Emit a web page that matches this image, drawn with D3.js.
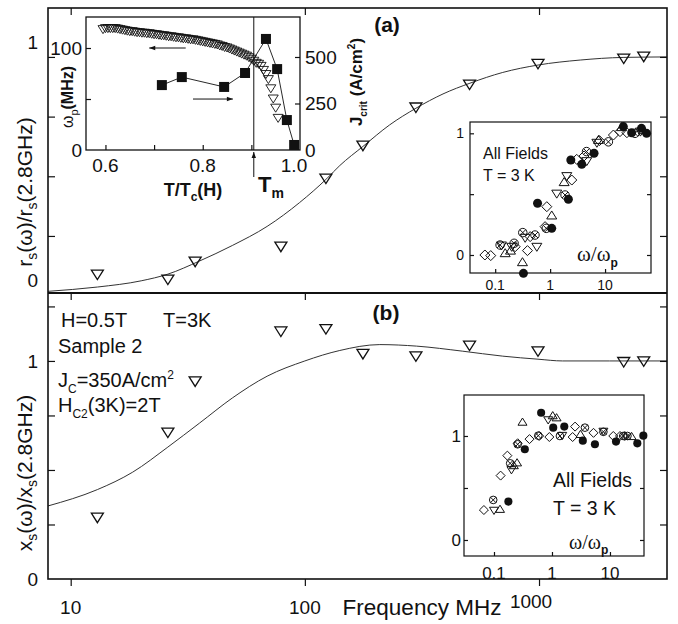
<!DOCTYPE html>
<html>
<head>
<meta charset="utf-8">
<script src="https://cdn.jsdelivr.net/npm/d3@7"></script>
<style>
  body { margin: 0; background: #fff; }
  svg { display: block; }
  text { font-family: "Liberation Sans", Arial, Helvetica, sans-serif; fill: #111; }
</style>
</head>
<body>
<svg id="chart" width="678" height="624"></svg>
<script>
// ---------------- data ----------------
const freqTicks = [10, 100, 1000];
const measFreq = [13, 26, 34, 79, 123, 177, 298, 505, 990, 2300, 2800];
const rsMeas   = [0.087, 0.066, 0.141, 0.204, 0.489, 0.627, 0.787, 0.883, 0.97, 0.992, 1.0];
const xsMeas   = [0.28, 0.67, 0.905, 1.134, 1.145, 1.031, 1.02, 1.069, 1.043, 0.994, 0.997];

const rsFitFreq = [8, 13, 20, 26, 35.5, 49, 69, 95, 124, 141, 177, 230, 298, 389, 507, 700, 990, 1500, 2286, 3520];
const rsFit     = [0.018, 0.036, 0.062, 0.09, 0.145, 0.21, 0.29, 0.39, 0.49, 0.545, 0.625, 0.715, 0.785, 0.845, 0.89, 0.935, 0.966, 0.987, 0.998, 1.0];
const xsFitFreq = [8, 13, 18.4, 26, 35.5, 49, 69, 100, 141, 209, 300, 470, 700, 990, 1260, 2000, 3520];
const xsFit     = [0.335, 0.41, 0.49, 0.605, 0.715, 0.83, 0.93, 1.0, 1.048, 1.075, 1.068, 1.045, 1.022, 1.008, 1.0, 1.0, 1.0];

const panelTicks  = [0.25, 0.5, 0.75, 1, 1.25];
const panelLabels = [0, 1];

// plasma frequency and critical current vs reduced temperature
const omegaPts = [
  [0.595,118],[0.600,119],[0.605,119],[0.610,119],[0.615,119],[0.620,119],[0.625,118.5],[0.630,118],
  [0.635,117.5],[0.640,117],[0.645,116.5],[0.650,116],[0.655,116],[0.660,115.5],[0.665,115],[0.670,115],
  [0.675,114.5],[0.680,114.5],[0.685,114],[0.690,114],[0.695,113.5],[0.700,113],[0.705,113],[0.710,112.5],
  [0.715,112],[0.720,112],[0.725,111.5],[0.730,111],[0.735,111],[0.740,110.5],[0.745,110],[0.750,110],
  [0.755,109.5],[0.760,109],[0.765,109],[0.770,108.5],[0.775,108],[0.780,108],[0.785,107.5],[0.790,107],
  [0.795,106.5],[0.800,106],[0.805,105.5],[0.810,105],[0.815,104.5],[0.820,104],[0.825,103.5],[0.830,103],
  [0.835,102],[0.840,101.5],[0.845,100.5],[0.850,100],[0.855,99],[0.860,98],[0.865,97],[0.870,96],
  [0.875,95],[0.880,94],[0.885,93],[0.890,92],[0.895,90.5],[0.900,89],[0.905,87],[0.910,85],
  [0.915,84],[0.920,82],[0.925,78],[0.930,74],[0.935,69],[0.940,60],[0.945,50],[0.950,41],[0.955,31]
];
const jcRatio = [0.716, 0.757, 0.844, 0.887, 0.930, 0.953, 0.973, 0.988];
const jCrit   = [349, 392, 339, 414, 597, 435, 161, 27];
const tMelt = 0.905;
const omegaTicks = [0, 100];
const jTicks = [0, 250, 500];
const tTicks = [0.6, 0.8, 1.0];

// scaled r_s vs omega/omega_p, all fields
const rsDiamond = [[0.065,0.0],[0.083,-0.005],[0.231,0.068],[0.387,0.036],[0.433,0.151],[0.81,0.233],[0.87,0.397],
  [2.48,0.616],[3.05,0.786],[4.15,0.814],[7.9,0.94],[14.2,0.986],[18.7,1.014],[25,1.005]];
const rsUp = [[0.152,0.019],[0.19,0.04],[0.314,-0.055],[1.07,0.329],[1.8,0.603],[7.6,0.95],[20.1,1.055],[50,1.03]];
const rsDown = [[0.13,0.074],[0.2,0.063],[0.351,0.137],[0.573,0.063],[1.32,0.5],[2.01,0.644],[4.64,0.767],[7.1,0.918],[44,1.01]];
const rsCross = [[0.123,0.082],[0.221,0.096],[0.318,0.184],[0.53,0.164],[0.85,0.219],[1.87,0.493],[4.6,0.85],[11.5,0.93],[35,1.0]];
const rsDot = [[0.327,-0.151],[0.59,0.425],[1.07,0.219],[2.15,0.458],[2.38,0.781],[3.77,0.745],[6.3,0.836],
  [21.5,1.055],[30.5,1.005],[46,1.041],[57,1.0]];

// scaled x_s vs omega/omega_p, all fields
const xsDiamond = [[0.067,0.288],[0.13,0.619],[0.17,0.811],[0.256,0.93],[0.41,0.97],[0.6,1.0],[0.9,0.99],
  [2.27,0.99],[2.5,1.09],[5.2,1.03],[11.4,1.0],[14.9,1.0],[18,1.0]];
const xsUp = [[0.127,0.30],[0.22,0.72],[0.25,0.747],[0.31,1.138],[1.03,1.2],[1.2,1.18],[3.1,1.02],[23.6,1.0]];
const xsDown = [[0.1,0.28],[0.2,0.67],[0.86,1.15],[1.5,1.0],[7.7,1.04]];
const xsCross = [[0.097,0.385],[0.19,0.737],[0.256,0.92],[0.58,1.003],[1.37,1.0],[3.7,1.08],[7.7,1.04],[16.9,1.0],[20,1.0]];
const xsDot = [[0.177,0.369],[0.34,0.872],[0.65,1.224],[1.05,1.08],[1.63,1.09],[3.4,0.955],[5.5,0.92],
  [12.7,0.946],[29.6,0.929],[37.6,1.003]];

const ratioTicks = [0.1, 1, 10];
const ratioYTicks = [0, 0.5, 1];
const ratioYLabels = [0, 1];

// ---------------- helpers ----------------
const svg = d3.select("#chart");
const INK = "#111";

function richText(g, x, y, parts) {
  const t = g.append("text").attr("x", x).attr("y", y);
  let cur = 0;
  for (const p of parts) {
    const off = p.sub ? p.sub : p.sup ? -p.sup : 0;
    const ts = t.append("tspan").attr("dy", off - cur).text(p.t);
    if (p.size) ts.attr("font-size", p.size);
    if (p.weight) ts.attr("font-weight", p.weight);
    if (p.family) ts.attr("font-family", p.family);
    cur = off;
  }
  return t;
}
function ticks(g, axis) {
  g.call(axis);
  g.select(".domain").remove();
  g.selectAll("text").remove();
  g.selectAll("line").attr("stroke", INK).attr("stroke-width", 1.2);
}
const downTri = (w, h) => `M${-w},${-h / 2}L${w},${-h / 2}L0,${h / 2}Z`;
const upTri = (w, h) => `M${-w},${h / 2}L${w},${h / 2}L0,${-h / 2}Z`;
const diamond = r => `M0,${-r}L${r},0L0,${r}L${-r},0Z`;

function scatter(g, sx, sy, sets, r) {
  const place = d => `translate(${sx(d[0])},${sy(d[1])})`;
  g.selectAll(null).data(sets.diamond).join("path").attr("transform", place)
    .attr("d", diamond(r)).attr("fill", "none").attr("stroke", INK).attr("stroke-width", 1);
  g.selectAll(null).data(sets.up).join("path").attr("transform", place)
    .attr("d", upTri(r, r * 1.6)).attr("fill", "none").attr("stroke", INK).attr("stroke-width", 1);
  g.selectAll(null).data(sets.down).join("path").attr("transform", place)
    .attr("d", downTri(r, r * 1.6)).attr("fill", "none").attr("stroke", INK).attr("stroke-width", 1);
  const cx = g.selectAll(null).data(sets.cross).join("g").attr("transform", place);
  cx.append("circle").attr("r", r * 0.85).attr("fill", "none").attr("stroke", INK).attr("stroke-width", 1);
  cx.append("path").attr("d", `M${-r * 0.6},${-r * 0.6}L${r * 0.6},${r * 0.6}M${r * 0.6},${-r * 0.6}L${-r * 0.6},${r * 0.6}`)
    .attr("stroke", INK).attr("stroke-width", 1);
  g.selectAll(null).data(sets.dot).join("circle").attr("transform", place)
    .attr("r", r * 0.9).attr("fill", INK);
}

// ---------------- main frame ----------------
const F = { left: 48, right: 667, top: 8, mid: 293, bottom: 579 };
const x = d3.scaleLog().domain([8, 3520]).range([F.left, F.right]);
const yA = d3.scaleLinear().domain([0.011, 1.205]).range([F.mid, F.top]);
const yB = d3.scaleLinear().domain([0, 1.307]).range([F.bottom, F.mid + 1]);

const line = (sy) => d3.line().x(d => x(d[0])).y(d => sy(d[1])).curve(d3.curveMonotoneX);

// fits
svg.append("path").datum(rsFitFreq.map((f, i) => [f, rsFit[i]]))
  .attr("d", line(yA)).attr("fill", "none").attr("stroke", "#333").attr("stroke-width", 1);
svg.append("path").datum(xsFitFreq.map((f, i) => [f, xsFit[i]]))
  .attr("d", line(yB)).attr("fill", "none").attr("stroke", "#333").attr("stroke-width", 1);

// measured points
svg.selectAll(null).data(measFreq.map((f, i) => [f, rsMeas[i]])).join("path")
  .attr("transform", d => `translate(${x(d[0])},${yA(d[1])})`)
  .attr("d", downTri(6, 9.5)).attr("fill", "none").attr("stroke", INK).attr("stroke-width", 1.3);
svg.selectAll(null).data(measFreq.map((f, i) => [f, xsMeas[i]])).join("path")
  .attr("transform", d => `translate(${x(d[0])},${yB(d[1])})`)
  .attr("d", downTri(6, 9.5)).attr("fill", "none").attr("stroke", INK).attr("stroke-width", 1.3);

// ticks
ticks(svg.append("g").attr("transform", `translate(0,${F.top})`), d3.axisTop(x).tickValues(freqTicks).tickSize(-7));
ticks(svg.append("g").attr("transform", `translate(0,${F.mid})`), d3.axisBottom(x).tickValues(freqTicks).tickSize(7));
ticks(svg.append("g").attr("transform", `translate(0,${F.bottom})`), d3.axisBottom(x).tickValues(freqTicks).tickSize(7));
ticks(svg.append("g").attr("transform", `translate(${F.left},0)`), d3.axisLeft(yA).tickValues(panelTicks.filter(v => v <= 1)).tickSize(-7));
ticks(svg.append("g").attr("transform", `translate(${F.right},0)`), d3.axisRight(yA).tickValues(panelTicks.filter(v => v <= 1)).tickSize(-7));
ticks(svg.append("g").attr("transform", `translate(${F.left},0)`), d3.axisLeft(yB).tickValues(panelTicks).tickSize(-7));
ticks(svg.append("g").attr("transform", `translate(${F.right},0)`), d3.axisRight(yB).tickValues(panelTicks).tickSize(-7));

svg.append("rect").attr("x", F.left).attr("y", F.top).attr("width", F.right - F.left).attr("height", F.bottom - F.top)
  .attr("fill", "none").attr("stroke", INK).attr("stroke-width", 1.6);
svg.append("line").attr("x1", F.left).attr("x2", F.right).attr("y1", F.mid).attr("y2", F.mid)
  .attr("stroke", INK).attr("stroke-width", 1.8);

// tick labels
const tl = svg.append("g").attr("font-size", 19);
tl.selectAll(null).data(panelLabels).join("text")
  .attr("x", 38).attr("y", d => yA(d) - 15).attr("dy", "0.35em").attr("text-anchor", "end").text(d => d);
tl.selectAll(null).data(panelLabels).join("text")
  .attr("x", 38).attr("y", d => yB(d)).attr("dy", "0.35em").attr("text-anchor", "end").text(d => d);
tl.selectAll(null).data(freqTicks).join("text")
  .attr("x", d => x(d) - (d === 1000 ? 8 : 0)).attr("y", d => d === 1000 ? 608 : 614)
  .attr("text-anchor", "middle").text(d => d);

svg.append("text").attr("x", 422).attr("y", 615).attr("text-anchor", "middle")
  .attr("font-size", 22.5).text("Frequency MHz");

// axis titles
richText(svg.append("g").attr("transform", "translate(32,192) rotate(-90)").attr("font-size", 21), 0, 0, [
  { t: "r" }, { t: "s", sub: 5, size: 14 }, { t: "(ω)/r" }, { t: "s", sub: 5, size: 14 }, { t: "(2.8GHz)" }
]).attr("text-anchor", "middle");
richText(svg.append("g").attr("transform", "translate(32,473) rotate(-90)").attr("font-size", 21), 0, 0, [
  { t: "x" }, { t: "s", sub: 5, size: 14 }, { t: "(ω)/x" }, { t: "s", sub: 5, size: 14 }, { t: "(2.8GHz)" }
]).attr("text-anchor", "middle");

// panel tags
svg.append("text").attr("x", 387).attr("y", 32).attr("text-anchor", "middle")
  .attr("font-size", 21).attr("font-weight", "bold").text("(a)");
svg.append("text").attr("x", 386).attr("y", 320).attr("text-anchor", "middle")
  .attr("font-size", 21).attr("font-weight", "bold").text("(b)");

// sample annotations
const ann = svg.append("g").attr("font-size", 20);
ann.append("text").attr("x", 61).attr("y", 327).text("H=0.5T");
ann.append("text").attr("x", 163).attr("y", 327).text("T=3K");
ann.append("text").attr("x", 58).attr("y", 353).text("Sample 2");
richText(ann, 58, 387, [{ t: "J" }, { t: "C", sub: 6, size: 12 }, { t: "=350A/cm" }, { t: "2", sup: 8, size: 12 }]);
richText(ann, 58, 412, [{ t: "H" }, { t: "C2", sub: 6, size: 12 }, { t: "(3K)=2T" }]);

// ---------------- inset: plasma frequency vs T/Tc ----------------
const P = { left: 86, right: 300, top: 17, bottom: 150 };
const px = d3.scaleLinear().domain([0.56, 1.0]).range([P.left, P.right]);
const pyW = d3.scaleLinear().domain([0, 130.4]).range([P.bottom, P.top]);
const pyJ = d3.scaleLinear().domain([0, 715]).range([P.bottom, P.top]);
const ins1 = svg.append("g");
ins1.append("rect").attr("x", P.left).attr("y", P.top).attr("width", P.right - P.left).attr("height", P.bottom - P.top)
  .attr("fill", "#fff");
ticks(ins1.append("g").attr("transform", `translate(0,${P.bottom})`), d3.axisBottom(px).tickValues([0.6, 0.7, 0.8, 0.9]).tickSize(-5));
ticks(ins1.append("g").attr("transform", `translate(${P.left},0)`), d3.axisLeft(pyW).tickValues([50, 100]).tickSize(-5));
ticks(ins1.append("g").attr("transform", `translate(${P.right},0)`), d3.axisRight(pyJ).tickValues([250, 500]).tickSize(-5));

// T_m marker line
ins1.append("line").attr("x1", px(tMelt)).attr("x2", px(tMelt)).attr("y1", P.top).attr("y2", P.bottom)
  .attr("stroke", INK).attr("stroke-width", 1);

// J_crit line, omega_p triangles, J_crit squares
ins1.append("path").datum(jcRatio.map((t, i) => [t, jCrit[i]]))
  .attr("d", d3.line().x(d => px(d[0])).y(d => pyJ(d[1])))
  .attr("fill", "none").attr("stroke", INK).attr("stroke-width", 0.9);
ins1.selectAll(null).data(omegaPts).join("path")
  .attr("transform", d => `translate(${px(d[0])},${pyW(d[1])})`)
  .attr("d", downTri(5, 8)).attr("fill", "none").attr("stroke", INK).attr("stroke-width", 0.9);
ins1.selectAll(null).data(jcRatio.map((t, i) => [t, jCrit[i]])).join("rect")
  .attr("x", d => px(d[0]) - 5).attr("y", d => pyJ(d[1]) - 5).attr("width", 10).attr("height", 10)
  .attr("fill", INK);

ins1.append("rect").attr("x", P.left).attr("y", P.top).attr("width", P.right - P.left).attr("height", P.bottom - P.top)
  .attr("fill", "none").attr("stroke", INK).attr("stroke-width", 1.3);

// direction arrows
function arrow(g, x1, y1, x2, y2) {
  g.append("line").attr("x1", x1).attr("y1", y1).attr("x2", x2).attr("y2", y2)
    .attr("stroke", INK).attr("stroke-width", 1);
  const a = Math.atan2(y2 - y1, x2 - x1), L = 6, Wd = 2.2;
  const hx = x2 - L * Math.cos(a), hy = y2 - L * Math.sin(a);
  g.append("path").attr("d", `M${x2},${y2}L${hx - Wd * Math.sin(a)},${hy + Wd * Math.cos(a)}L${hx + Wd * Math.sin(a)},${hy - Wd * Math.cos(a)}Z`)
    .attr("fill", INK);
}
arrow(ins1, px(0.765), pyW(100), px(0.69), pyW(100));
arrow(ins1, px(0.78), pyJ(274), px(0.862), pyJ(274));
arrow(svg, px(tMelt), 177, px(tMelt), 152);

const il = ins1.append("g").attr("font-size", 19);
il.selectAll(null).data(omegaTicks).join("text").attr("x", 82).attr("y", d => pyW(d)).attr("dy", "0.35em")
  .attr("text-anchor", "end").text(d => d);
il.selectAll(null).data(jTicks).join("text").attr("x", 305).attr("y", d => pyJ(d)).attr("dy", "0.35em")
  .text(d => d);
il.selectAll(null).data(tTicks).join("text").attr("x", d => px(d) - (d === 1.0 ? 6 : 0)).attr("y", 172)
  .attr("text-anchor", "middle").text(d => d.toFixed(1));

richText(ins1.append("g").attr("font-size", 18).attr("font-weight", "bold"), 193, 196, [
  { t: "T/T" }, { t: "c", sub: 5, size: 12 }, { t: "(H)" }
]).attr("text-anchor", "middle");
richText(ins1.append("g").attr("font-size", 22).attr("font-weight", "bold"), 258, 192, [
  { t: "T" }, { t: "m", sub: 6, size: 14 }
]);
richText(ins1.append("g").attr("transform", "translate(73,97) rotate(-90)").attr("font-size", 16), 0, 0, [
  { t: "ω" }, { t: "p", sub: 5, size: 11 }, { t: "(MHz)", weight: "bold" }
]).attr("text-anchor", "middle");
richText(ins1.append("g").attr("transform", "translate(362,82) rotate(-90)").attr("font-size", 17).attr("font-weight", "bold"), 0, 0, [
  { t: "J" }, { t: "crit", sub: 5, size: 10 }, { t: " (A/cm" }, { t: "2", sup: 7, size: 10 }, { t: ")" }
]).attr("text-anchor", "middle");

// ---------------- inset: scaled r_s ----------------
const A = { left: 470, right: 651, top: 122, bottom: 273 };
const ax = d3.scaleLog().domain([0.0348, 68.6]).range([A.left, A.right]);
const ay = d3.scaleLinear().domain([-0.148, 1.093]).range([A.bottom, A.top]);
const ins2 = svg.append("g");
ins2.append("rect").attr("x", A.left).attr("y", A.top).attr("width", A.right - A.left).attr("height", A.bottom - A.top)
  .attr("fill", "#fff");
ticks(ins2.append("g").attr("transform", `translate(0,${A.bottom})`), d3.axisBottom(ax).tickValues(ratioTicks).tickSize(-4));
ticks(ins2.append("g").attr("transform", `translate(${A.left},0)`), d3.axisLeft(ay).tickValues(ratioYTicks).tickSize(-4));
ticks(ins2.append("g").attr("transform", `translate(${A.right},0)`), d3.axisRight(ay).tickValues(ratioYTicks).tickSize(-4));
scatter(ins2, ax, ay, { diamond: rsDiamond, up: rsUp, down: rsDown, cross: rsCross, dot: rsDot }, 5);
ins2.append("rect").attr("x", A.left).attr("y", A.top).attr("width", A.right - A.left).attr("height", A.bottom - A.top)
  .attr("fill", "none").attr("stroke", INK).attr("stroke-width", 1.2);
const al = ins2.append("g").attr("font-size", 14);
al.selectAll(null).data(ratioYLabels).join("text").attr("x", 464).attr("y", d => ay(d)).attr("dy", "0.35em")
  .attr("text-anchor", "end").text(d => d);
al.selectAll(null).data(ratioTicks).join("text").attr("x", d => ax(d)).attr("y", 290)
  .attr("text-anchor", "middle").text(d => d);
ins2.append("text").attr("x", 483).attr("y", 159).attr("font-size", 16).text("All Fields");
ins2.append("text").attr("x", 483).attr("y", 181).attr("font-size", 16).text("T = 3 K");
richText(ins2.append("g").attr("font-size", 21), 577, 261, [
  { t: "ω/ω", family: "'Liberation Serif', 'Times New Roman', serif" }, { t: "p", sub: 6, size: 12, weight: "bold" }
]);

// ---------------- inset: scaled x_s ----------------
const B = { left: 464, right: 644, top: 395, bottom: 556 };
const bx = d3.scaleLog().domain([0.0304, 38.6]).range([B.left, B.right]);
const by = d3.scaleLinear().domain([-0.154, 1.394]).range([B.bottom, B.top]);
const ins3 = svg.append("g");
ins3.append("rect").attr("x", B.left).attr("y", B.top).attr("width", B.right - B.left).attr("height", B.bottom - B.top)
  .attr("fill", "#fff");
ticks(ins3.append("g").attr("transform", `translate(0,${B.bottom})`), d3.axisBottom(bx).tickValues(ratioTicks).tickSize(-4));
ticks(ins3.append("g").attr("transform", `translate(${B.left},0)`), d3.axisLeft(by).tickValues(ratioYTicks).tickSize(-4));
ticks(ins3.append("g").attr("transform", `translate(${B.right},0)`), d3.axisRight(by).tickValues(ratioYTicks).tickSize(-4));
scatter(ins3, bx, by, { diamond: xsDiamond, up: xsUp, down: xsDown, cross: xsCross, dot: xsDot }, 4.5);
ins3.append("rect").attr("x", B.left).attr("y", B.top).attr("width", B.right - B.left).attr("height", B.bottom - B.top)
  .attr("fill", "none").attr("stroke", INK).attr("stroke-width", 1.2);
const bl = ins3.append("g").attr("font-size", 17);
bl.selectAll(null).data(ratioYLabels).join("text").attr("x", 461).attr("y", d => by(d)).attr("dy", "0.35em")
  .attr("text-anchor", "end").text(d => d);
bl.selectAll(null).data(ratioTicks).join("text").attr("x", d => bx(d)).attr("y", 579)
  .attr("text-anchor", "middle").text(d => d);
ins3.append("text").attr("x", 553).attr("y", 487).attr("font-size", 19.5).text("All Fields");
ins3.append("text").attr("x", 553).attr("y", 515).attr("font-size", 19.5).text("T = 3 K");
richText(ins3.append("g").attr("font-size", 20), 569, 549, [
  { t: "ω/ω", family: "'Liberation Serif', 'Times New Roman', serif" }, { t: "p", sub: 5, size: 12, weight: "bold" }
]);
</script>
</body>
</html>
